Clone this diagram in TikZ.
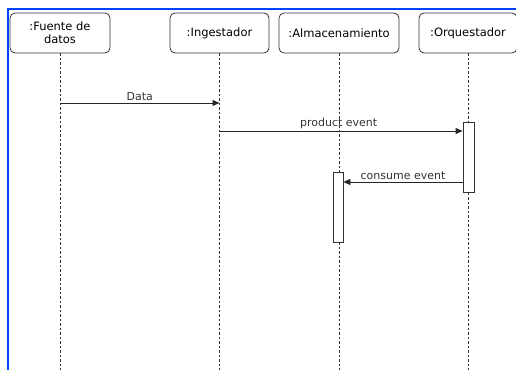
\documentclass[tikz,border=0pt]{standalone}
\usepackage{fontspec}
\setmainfont{DejaVu Sans}
\usetikzlibrary{arrows.meta}
\definecolor{frameblue}{HTML}{0044FF}
\definecolor{txtgray}{HTML}{333333}
\tikzset{
  px/.style={x=1pt,y=-1pt},
  actor/.style={draw=black!80, rounded corners=5pt, line width=0.8pt, fill=white, minimum height=40pt, align=center, inner sep=1pt, font=\fontsize{11.5}{13}\selectfont},
  lifeline/.style={draw=black!80, dash pattern=on 2.5pt off 2pt, line width=0.7pt},
  msg/.style={draw=black!85, line width=0.8pt, -{Triangle[length=7pt,width=6pt]}},
  lbl/.style={font=\fontsize{11}{13}\selectfont, text=txtgray, inner sep=1pt},
  actbar/.style={draw=black!80, fill=white, line width=0.8pt}
}
\begin{document}
\begin{tikzpicture}[px]
\useasboundingbox (0,0) rectangle (516,370);
% frame
\draw[frameblue, line width=2pt] (8,370) -- (8,9) -- (516,9);
% actors
\node[actor, minimum width=100pt] (fu) at (60,33) {:Fuente de\\datos};
\node[actor, minimum width=99pt] (in) at (219.5,33) {:Ingestador};
\node[actor, minimum width=120pt] (al) at (339,33) {:Almacenamiento};
\node[actor, minimum width=98pt] (or) at (468,33) {:Orquestador};
% lifelines
\coordinate (fuE) at (60,370);
\coordinate (inE) at (219.5,370);
\coordinate (alE) at (339,370);
\coordinate (orE) at (468,370);
\draw[lifeline] (fu.south) -- (fuE);
\draw[lifeline] (in.south) -- (inE);
\draw[lifeline] (al.south) -- (alE);
\draw[lifeline] (or.south) -- (orE);
% activation bars
\node[actbar, minimum width=11pt, minimum height=70pt, inner sep=0pt] (orA) at (468.5,157) {};
\node[actbar, minimum width=10pt, minimum height=70pt, inner sep=0pt] (alA) at (338,207) {};
% messages
\coordinate (m1s) at (60,103);
\coordinate (m1e) at (219.5,103);
\draw[msg] (m1s) -- node[lbl, above=1pt] {Data} (m1e);
\coordinate (m2s) at (219.5,131);
\draw[msg] (m2s) -- node[lbl, above=1pt, pos=0.49] {product event} (m2s -| orA.west);
\coordinate (m3s) at (463,182);
\draw[msg] (m3s -| orA.west) -- node[lbl, above=1pt, pos=0.5] {consume event} (m3s -| alA.east);
\end{tikzpicture}
\end{document}
